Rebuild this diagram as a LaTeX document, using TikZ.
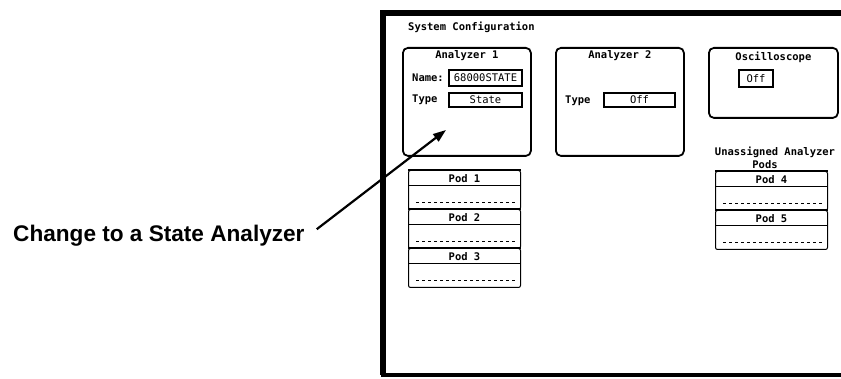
\documentclass[tikz,border=0pt]{standalone}
\usepackage{fontspec}
\setmainfont{Liberation Sans}
\newfontfamily\scrfont{DejaVu Sans Mono}
\usepackage{tikz}
\usetikzlibrary{arrows.meta,positioning}

\begin{document}
\begin{tikzpicture}[x=1pt,y=-1pt,
    scrtext/.style={font=\scrfont\bfseries\fontsize{10.5}{11}\selectfont,inner sep=0pt},
    panel/.style={draw,line width=1.8pt,rounded corners=5pt,anchor=north west},
    field/.style={draw,line width=1.2pt,scrtext,font=\scrfont\fontsize{10.5}{11}\selectfont},
    podbox/.style={draw,line width=1pt,rounded corners=2pt,anchor=north west,
      minimum width=112pt,minimum height=39pt,inner sep=0pt},
    callout/.style={font=\bfseries\fontsize{22.6}{26}\selectfont,inner sep=0pt,anchor=base west}]
  \useasboundingbox (0,0) rectangle (841,379);
  % screen frame
  \draw[line width=5.5pt] (841,13) -- (383,13) -- (383,375);
  \draw[line width=3.5pt] (381,375) -- (841,375);
  \node[scrtext,anchor=west] (sysconf) at (408,27) {System Configuration};
  % analyzer 1
  \node[panel,minimum width=128pt,minimum height=108pt] (an1) at (402,47) {};
  \node[scrtext] at ([yshift=-9pt]an1.north) {Analyzer 1};
  \node[scrtext,anchor=west] (an1namelab) at (412,78) {Name:};
  \node[field,minimum width=73pt,minimum height=16pt] (an1name) at (485.5,78) {68000STATE};
  \node[scrtext,anchor=west] (an1typelab) at (412,100) {Type};
  \node[field,minimum width=73pt,minimum height=14pt] (an1type) at (485.5,100) {State};
  % analyzer 2
  \node[panel,minimum width=128pt,minimum height=108pt] (an2) at (555,47) {};
  \node[scrtext] at ([yshift=-9pt]an2.north) {Analyzer 2};
  \node[scrtext,anchor=west] (an2typelab) at (565,101) {Type};
  \node[field,minimum width=71pt,minimum height=14pt] (an2type) at (639.5,100) {Off};
  % oscilloscope
  \node[panel,minimum width=129pt,minimum height=70pt] (osc) at (708,47) {};
  \node[scrtext] at ([yshift=-10pt]osc.north) {Oscilloscope};
  \node[field,minimum width=34pt,minimum height=17pt] (oscfield) at (756,78.5) {Off};
  % pods
  \node[scrtext] (unass) at (775,152) {Unassigned Analyzer};
  \node[scrtext] (unpods) at (765,165) {Pods};
  \foreach \i/\x/\t in {1/408/170,2/408/209,3/408/248,4/715/171,5/715/210}{
    \node[podbox] (pod\i) at (\x,\t) {};
    \draw[line width=1.8pt] (pod\i.north west) -- (pod\i.north east);
    \node[scrtext] at ([yshift=-8.5pt]pod\i.north) {Pod \i};
    \draw[line width=1pt] ([yshift=-16pt]pod\i.north west) -- ([yshift=-16pt]pod\i.north east);
    \draw[line width=1pt,dashed] ([xshift=8pt,yshift=-33pt]pod\i.north west) -- ([xshift=-4pt,yshift=-33pt]pod\i.north east);
  }
  % callout
  \node[callout] (stateline) at (13,242) {Change to a State Analyzer};
  \coordinate (statetip) at (446,130);
  \draw[line width=2.2pt,-{Triangle[length=13pt,width=9pt]}] ([xshift=12pt,yshift=7pt]stateline.east) -- (statetip);
\end{tikzpicture}
\end{document}
